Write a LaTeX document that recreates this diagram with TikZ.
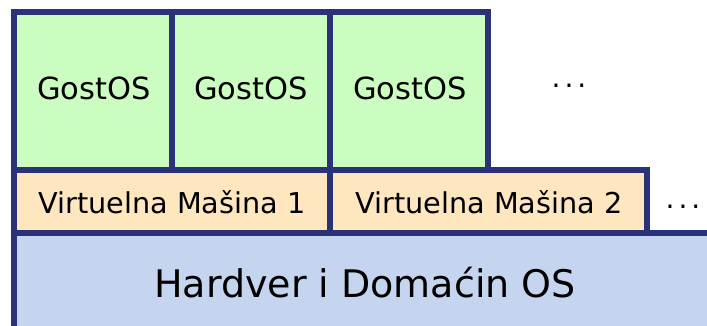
\documentclass[tikz,border=0pt]{standalone}
\usepackage{fontspec}
\setmainfont{DejaVu Sans}
\definecolor{navy}{HTML}{2A3378}
\definecolor{gostfill}{HTML}{CCFDC0}
\definecolor{vmfill}{HTML}{FEE6BE}
\definecolor{hwfill}{HTML}{C5D5F0}
\tikzset{
  boxline/.style={draw=navy, line width=5.5pt, line join=miter},
  gost/.style={boxline, fill=gostfill},
  vm/.style={boxline, fill=vmfill},
  hw/.style={boxline, fill=hwfill},
  lbl/.style={anchor=base, inner sep=0pt, text=black},
}
\begin{document}
\begin{tikzpicture}[x=1pt, y=-1pt]
\useasboundingbox (0,0) rectangle (707,326);
\begin{scope}
\clip (0,0) rectangle (707,326);
\draw[hw] (14,233) rectangle (730,350);
\end{scope}
\draw[vm] (14,170) rectangle (330,233);
\draw[vm] (330,170) rectangle (647,233);
\draw[gost] (14,12) rectangle (172,170);
\draw[gost] (172,12) rectangle (330,170);
\draw[gost] (330,12) rectangle (488,170);
\node[lbl, font=\fontsize{30.5}{36}\selectfont] (g1) at (94,99.5) {GostOS};
\node[lbl, font=\fontsize{30.5}{36}\selectfont] (g2) at (251,99.5) {GostOS};
\node[lbl, font=\fontsize{30.5}{36}\selectfont] (g3) at (410,99.5) {GostOS};
\node[lbl, font=\fontsize{28}{34}\selectfont] (d1) at (569,88) {.\kern4pt.\kern4pt.};
\node[lbl, font=\fontsize{28.7}{34}\selectfont] (v1) at (172,213) {Virtuelna Mašina 1};
\node[lbl, font=\fontsize{28.7}{34}\selectfont] (v2) at (489,213) {Virtuelna Mašina 2};
\node[lbl, font=\fontsize{28}{34}\selectfont] (d2) at (683,208) {.\kern4pt.\kern4pt.};
\node[lbl, font=\fontsize{38}{44}\selectfont] (hw) at (365,297) {Hardver i Domaćin OS};
\end{tikzpicture}
\end{document}
